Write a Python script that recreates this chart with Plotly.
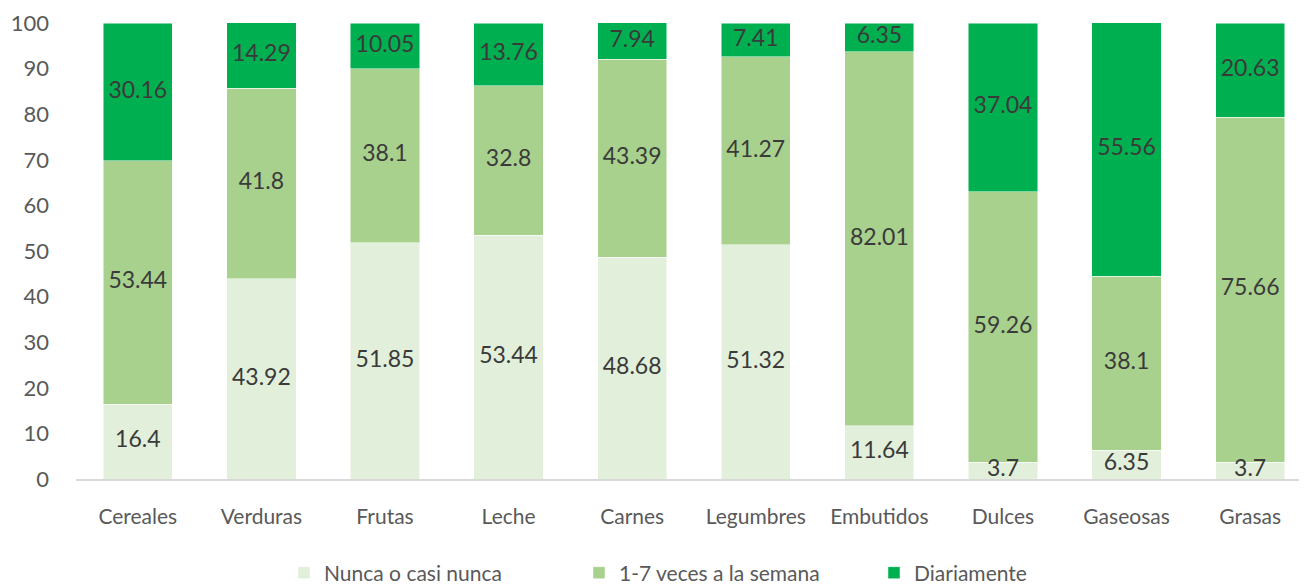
import plotly.graph_objects as go

categories = ["Cereales", "Verduras", "Frutas", "Leche", "Carnes", "Legumbres",
              "Embutidos", "Dulces", "Gaseosas", "Grasas"]
nunca = [16.4, 43.92, 51.85, 53.44, 48.68, 51.32, 11.64, 3.7, 6.35, 3.7]
semana = [53.44, 41.8, 38.1, 32.8, 43.39, 41.27, 82.01, 59.26, 38.1, 75.66]
diario = [30.16, 14.29, 10.05, 13.76, 7.94, 7.41, 6.35, 37.04, 55.56, 20.63]
series_names = ["Nunca o casi nunca", "1-7 veces a la semana", "Diariamente"]
colors = ["#e2efda", "#a9d18e", "#00b050"]

FONT = "Lato"
fig = go.Figure()
series = [nunca, semana, diario]
for name, vals, col in zip(series_names, series, colors):
    fig.add_trace(go.Bar(
        name=name, x=categories, y=vals,
        marker=dict(color=col, line=dict(color="rgba(255,255,255,0.6)", width=0.8)),
        textposition="none", hoverinfo="x+y+name",
    ))

# data labels at the middle of each stacked segment
base = [0.0] * len(categories)
for vals in series:
    mids = [b + v / 2 for b, v in zip(base, vals)]
    fig.add_trace(go.Scatter(
        x=categories, y=mids, mode="text", text=[f"{v:g}" for v in vals],
        textposition="middle center", showlegend=False, hoverinfo="skip",
        cliponaxis=False,
        textfont=dict(family=FONT, size=23, color="#3a3a3a"),
    ))
    base = [b + v for b, v in zip(base, vals)]

# the page has an 8px body margin, so the figure is drawn 8px in from the top-left
fig.update_layout(
    barmode="stack", bargap=0.44,
    width=1299, height=579,
    margin=dict(l=68, r=0, t=15, b=108, autoexpand=False),
    plot_bgcolor="white", paper_bgcolor="white",
    font=dict(family=FONT, size=21, color="#595959"),
    xaxis=dict(range=[-0.5, 9.46], showline=True, linecolor="#d9d9d9", linewidth=1.5,
               ticks="", ticklabelstandoff=18, automargin=False,
               tickfont=dict(size=21, color="#595959"), showgrid=False),
    yaxis=dict(range=[0, 100], dtick=10, showgrid=False, zeroline=False, showline=False,
               ticks="", ticklabelstandoff=26, automargin=False,
               tickfont=dict(size=22, color="#595959")),
    legend=dict(orientation="h", x=(276 - 68) / 1231, xanchor="left",
                y=-(565 - 471) / 456, yanchor="middle",
                font=dict(size=21, color="#595959"), traceorder="normal",
                entrywidth=250, entrywidthmode="pixels", itemwidth=30),
    showlegend=True,
)
fig.write_html("out.html")
